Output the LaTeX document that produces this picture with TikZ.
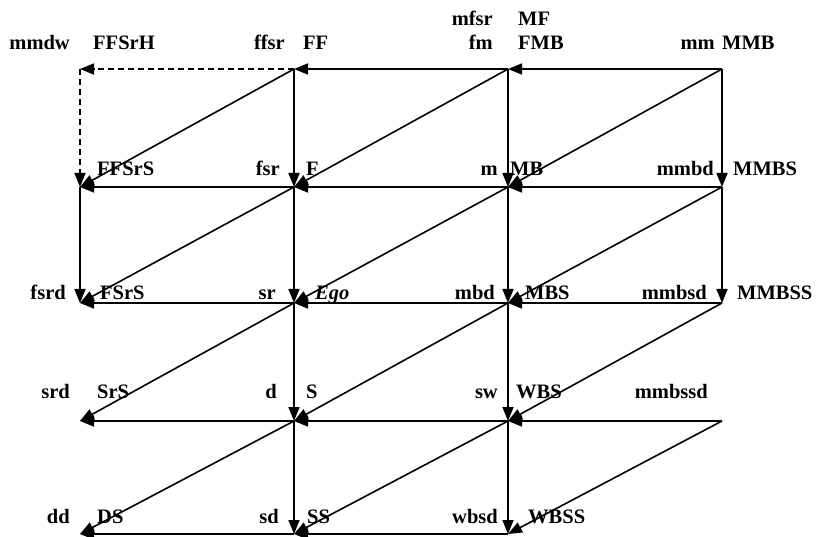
\documentclass[tikz,border=0pt]{standalone}
\usepackage{fontspec}
\setmainfont{Liberation Serif}
\usetikzlibrary{arrows.meta}
\begin{document}
\begin{tikzpicture}[x=1pt,y=-1pt,
  link/.style={line width=1.6pt,-{Triangle[length=14pt,width=11pt]}},
  dlink/.style={link,dash pattern=on 6pt off 4pt},
  lab/.style={font=\fontsize{20.5}{22}\selectfont\bfseries,inner sep=0pt},
  lw/.style={lab,anchor=base east},
  le/.style={lab,anchor=base west}]
\useasboundingbox (0,0) rectangle (817,537);
% grid points
\coordinate (FFSrH) at (80,69);
\coordinate (FF) at (294,69);
\coordinate (FMB) at (508,69);
\coordinate (MMB) at (722,69);
\coordinate (FFSrS) at (80,187);
\coordinate (F) at (294,187);
\coordinate (MB) at (508,187);
\coordinate (MMBS) at (722,187);
\coordinate (FSrS) at (80,303);
\coordinate (Ego) at (294,303);
\coordinate (MBS) at (508,303);
\coordinate (MMBSS) at (722,303);
\coordinate (SrS) at (80,421);
\coordinate (S) at (294,421);
\coordinate (WBS) at (508,421);
\coordinate (MMBSSD) at (722,421);
\coordinate (DS) at (80,534);
\coordinate (SS) at (294,534);
\coordinate (WBSS) at (508,534);
% row 1
\draw[link] (MMB) -- (FMB);
\draw[link] (FMB) -- (FF);
\draw[dlink] (FF) -- (FFSrH);
\draw[dlink] (FFSrH) -- (FFSrS);
\draw[link] (FF) -- (F);
\draw[link] (FMB) -- (MB);
\draw[link] (MMB) -- (MMBS);
\draw[link] (FF) -- (FFSrS);
\draw[link] (FMB) -- (F);
\draw[link] (MMB) -- (MB);
% row 2
\draw[link] (MMBS) -- (MB);
\draw[link] (MB) -- (F);
\draw[link] (F) -- (FFSrS);
\draw[link] (FFSrS) -- (FSrS);
\draw[link] (F) -- (Ego);
\draw[link] (MB) -- (MBS);
\draw[link] (MMBS) -- (MMBSS);
\draw[link] (F) -- (FSrS);
\draw[link] (MB) -- (Ego);
\draw[link] (MMBS) -- (MBS);
% row 3
\draw[link] (MMBSS) -- (MBS);
\draw[link] (MBS) -- (Ego);
\draw[link] (Ego) -- (FSrS);
\draw[link] (Ego) -- (S);
\draw[link] (MBS) -- (WBS);
\draw[link] (Ego) -- (SrS);
\draw[link] (MBS) -- (S);
\draw[link] (MMBSS) -- (WBS);
% row 4
\draw[link] (MMBSSD) -- (WBS);
\draw[link] (WBS) -- (S);
\draw[link] (S) -- (SrS);
\draw[link] (S) -- (SS);
\draw[link] (WBS) -- (WBSS);
\draw[link] (S) -- (DS);
\draw[link] (WBS) -- (SS);
\draw[link] (MMBSSD) -- (WBSS);
% row 5
\draw[link] (WBSS) -- (SS);
\draw[link] (SS) -- (DS);
% labels row 1
\node[lw] (l-mmdw) at (70,50) {mmdw};
\node[le] (l-FFSrH) at (93,50) {FFSrH};
\node[lw] (l-ffsr) at (285,50) {ffsr};
\node[le] (l-FF) at (303,50) {FF};
\node[lw] (l-mfsr) at (493,26) {mfsr};
\node[le] (l-MF) at (518,26) {MF};
\node[lw] (l-fm) at (493,50) {fm};
\node[le] (l-FMB) at (518,50) {FMB};
\node[lw] (l-mm) at (715,50) {mm};
\node[le] (l-MMB) at (722,50) {MMB};
% labels row 2
\node[le] (l-FFSrS) at (97,176) {FFSrS};
\node[lw] (l-fsr) at (280,176) {fsr};
\node[le] (l-F) at (306,176) {F};
\node[lw] (l-m) at (498,176) {m};
\node[le] (l-MB) at (510,176) {MB};
\node[lw] (l-mmbd) at (714,176) {mmbd};
\node[le] (l-MMBS) at (733,176) {MMBS};
% labels row 3
\node[lw] (l-fsrd) at (66,300) {fsrd};
\node[le] (l-FSrS) at (100,300) {FSrS};
\node[lw] (l-sr) at (276,300) {sr};
\node[le] (l-Ego) at (315,300) {\itshape Ego};
\node[lw] (l-mbd) at (495,300) {mbd};
\node[le] (l-MBS) at (525,300) {MBS};
\node[lw] (l-mmbsd) at (707,300) {mmbsd};
\node[le] (l-MMBSS) at (737,300) {MMBSS};
% labels row 4
\node[lw] (l-srd) at (70,399) {srd};
\node[le] (l-SrS) at (97,399) {SrS};
\node[lw] (l-d) at (277,399) {d};
\node[le] (l-S) at (306,399) {S};
\node[lw] (l-sw) at (498,399) {sw};
\node[le] (l-WBS) at (516,399) {WBS};
\node[lw] (l-mmbssd) at (708,399) {mmbssd};
% labels row 5
\node[lw] (l-dd) at (70,523) {dd};
\node[le] (l-DS) at (97,523) {DS};
\node[lw] (l-sd) at (279,523) {sd};
\node[le] (l-SS) at (307,523) {SS};
\node[lw] (l-wbsd) at (498,523) {wbsd};
\node[le] (l-WBSS) at (528,523) {WBSS};
\end{tikzpicture}
\end{document}
